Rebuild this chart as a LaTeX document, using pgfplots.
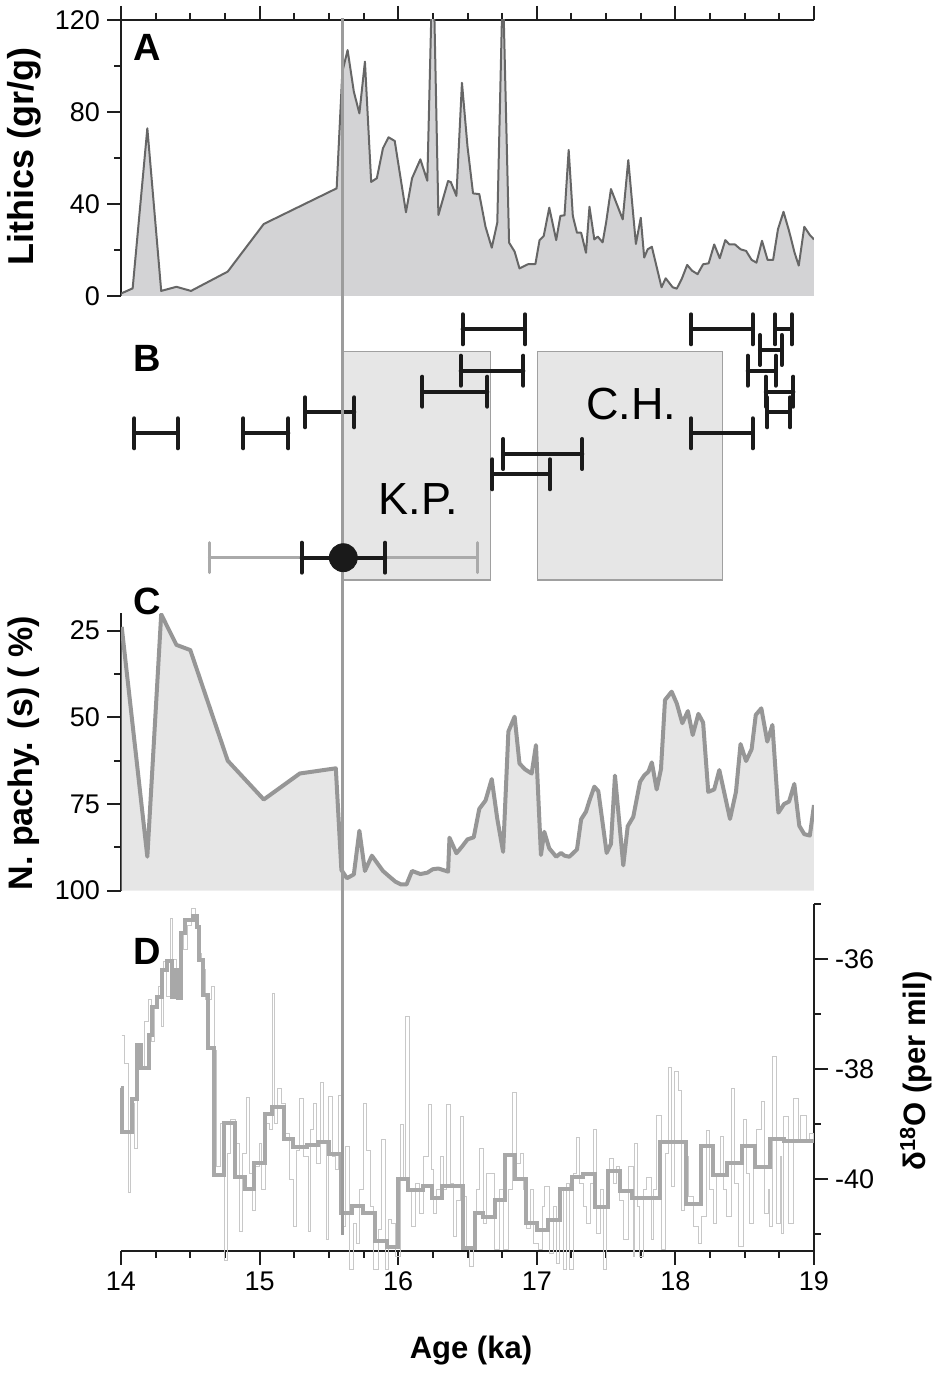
\documentclass[border=0pt]{standalone}
\usepackage{fontspec}
\setmainfont{Liberation Sans}
\usepackage{pgfplots}
\pgfplotsset{compat=1.18}
\usepackage{pgfplotstable}

\definecolor{axcol}{HTML}{1E1E1E}
\definecolor{afill}{HTML}{D3D3D5}
\definecolor{aline}{HTML}{666666}
\definecolor{cfill}{HTML}{E6E6E6}
\definecolor{cline}{HTML}{969696}
\definecolor{dthick}{HTML}{A8A8A8}
\definecolor{dthin}{HTML}{C8C8C8}
\definecolor{boxfill}{HTML}{E6E6E6}
\definecolor{boxline}{HTML}{A0A0A0}
\definecolor{barcol}{HTML}{1A1A1A}
\definecolor{graybar}{HTML}{AAAAAA}
\definecolor{vline}{HTML}{9C9C9C}

\pgfplotstableread{
x y
14.005 1.2
14.084 3.3
14.19 72.9
14.29 2.2
14.40 4.0
14.505 2.2
14.77 10.6
15.03 31.3
15.556 46.8
15.597 97.5
15.635 106.9
15.68 88.8
15.72 79.4
15.76 101.9
15.805 49.6
15.846 51.2
15.89 64.2
15.93 69.0
15.975 67.4
16.056 36.4
16.10 51.2
16.16 59.4
16.21 50.1
16.24 125
16.26 125
16.29 35.2
16.36 50.0
16.38 49.5
16.42 43.5
16.46 92.7
16.50 65.0
16.54 44.6
16.585 44.3
16.63 30.1
16.675 21.0
16.715 31.9
16.75 125
16.76 125
16.80 23.2
16.84 19.3
16.875 12.0
16.94 13.9
16.99 13.9
17.02 24.3
17.05 26.1
17.09 38.4
17.14 24.3
17.17 34.8
17.20 35.1
17.23 63.5
17.26 34.8
17.29 27.5
17.32 27.5
17.355 18.8
17.38 38.8
17.415 24.6
17.44 25.8
17.475 23.3
17.50 31.9
17.535 46.5
17.62 33.3
17.66 59.1
17.715 22.6
17.75 34.0
17.775 16.7
17.80 20.3
17.83 21.4
17.90 3.8
17.93 7.7
17.98 3.8
18.01 3.2
18.045 7.3
18.085 13.5
18.12 11.0
18.16 9.5
18.20 13.8
18.24 14.2
18.28 22.4
18.32 16.4
18.36 24.3
18.39 22.4
18.43 22.4
18.47 20.3
18.51 19.6
18.55 15.7
18.585 14.5
18.625 24.0
18.665 15.7
18.705 15.7
18.74 29.0
18.78 36.6
18.82 28.3
18.86 18.8
18.89 13.2
18.93 30.1
18.97 26.5
19.00 24.6
}\lithics

\pgfplotstableread{
x y
14.005 23.9
14.19 90.2
14.29 20.3
14.40 29.1
14.50 30.6
14.77 62.5
15.03 73.7
15.29 66.2
15.55 64.7
15.59 94.0
15.63 96.4
15.68 95.3
15.72 82.7
15.76 94.3
15.81 89.9
15.89 94.3
15.93 95.7
15.98 97.4
16.02 98.2
16.06 98.2
16.10 94.3
16.16 95.2
16.21 94.8
16.25 93.8
16.29 93.6
16.36 94.5
16.37 84.7
16.42 89.2
16.46 87.3
16.50 85.2
16.545 84.6
16.585 76.4
16.63 74.0
16.675 67.8
16.715 79.3
16.757 88.8
16.795 54.1
16.84 49.8
16.875 63.3
16.915 65.0
16.963 66.2
16.994 58.0
17.03 89.7
17.054 83.0
17.09 87.8
17.14 90.2
17.175 89.1
17.20 89.9
17.235 90.2
17.29 88.1
17.32 79.4
17.355 77.2
17.38 74.0
17.415 70.0
17.444 71.3
17.504 89.1
17.535 86.5
17.564 66.8
17.624 92.7
17.656 81.4
17.696 78.7
17.745 68.6
17.776 66.7
17.805 65.7
17.83 63.0
17.865 70.8
17.896 64.9
17.925 45.0
17.973 42.6
18.01 46.0
18.05 51.7
18.09 48.2
18.125 55.1
18.166 49.0
18.20 51.5
18.237 71.5
18.28 70.8
18.317 65.2
18.394 79.3
18.437 71.5
18.47 57.7
18.51 62.6
18.55 59.2
18.58 49.3
18.62 47.4
18.663 57.0
18.70 52.2
18.743 77.5
18.784 75.0
18.82 74.3
18.858 69.2
18.894 81.3
18.93 83.7
18.97 84.1
19.00 75.3
}\pachy

\pgfplotstableread{
x y
14.000 -38.35
14.005 -39.15
14.077 -38.55
14.113 -37.56
14.142 -37.98
14.204 -37.38
14.221 -36.87
14.257 -36.68
14.293 -36.19
14.329 -36.04
14.366 -36.68
14.390 -36.19
14.414 -36.70
14.430 -35.53
14.462 -35.29
14.522 -35.22
14.546 -35.41
14.565 -36.01
14.594 -36.65
14.630 -37.62
14.673 -39.92
14.743 -38.97
14.823 -39.96
14.895 -40.18
14.960 -39.70
15.039 -38.81
15.087 -38.68
15.178 -39.27
15.243 -39.42
15.340 -39.38
15.424 -39.32
15.503 -39.55
15.585 -40.61
15.664 -40.49
15.748 -40.61
15.833 -41.13
15.917 -41.24
16.001 -40.00
16.073 -40.19
16.180 -40.13
16.241 -40.35
16.314 -40.12
16.470 -41.26
16.554 -40.62
16.614 -40.68
16.698 -40.38
16.771 -39.56
16.843 -39.99
16.922 -40.79
16.999 -40.92
17.083 -40.75
17.167 -40.18
17.251 -39.96
17.336 -39.90
17.420 -40.51
17.511 -39.85
17.601 -40.21
17.685 -40.35
17.889 -39.32
18.077 -40.45
18.182 -39.39
18.274 -39.93
18.370 -39.71
18.478 -39.39
18.574 -39.78
18.682 -39.27
18.783 -39.30
19.000 -39.30
}\dthickdata

\pgfplotstableread{
x y
14.005 -37.38
14.022 -37.89
14.053 -40.25
14.070 -39.10
14.089 -38.62
14.100 -39.44
14.118 -37.53
14.149 -38.01
14.168 -37.13
14.197 -36.74
14.221 -37.50
14.240 -36.86
14.269 -36.50
14.293 -37.22
14.310 -36.04
14.329 -36.68
14.354 -35.25
14.373 -36.01
14.397 -36.62
14.426 -35.53
14.450 -35.83
14.479 -35.38
14.510 -35.07
14.534 -35.35
14.558 -35.89
14.582 -36.19
14.613 -36.74
14.654 -36.50
14.671 -37.65
14.690 -39.77
14.719 -38.98
14.750 -41.47
14.767 -39.53
14.791 -38.92
14.823 -39.35
14.854 -40.95
14.878 -39.53
14.907 -38.51
14.930 -39.89
14.950 -40.56
14.974 -39.77
14.998 -39.35
15.015 -40.19
15.046 -38.98
15.075 -39.10
15.094 -36.63
15.111 -38.98
15.128 -38.35
15.159 -38.62
15.190 -39.16
15.219 -40.01
15.243 -40.86
15.267 -39.47
15.291 -38.53
15.320 -39.59
15.352 -40.95
15.368 -39.10
15.388 -38.62
15.412 -39.71
15.436 -38.24
15.460 -39.35
15.484 -41.10
15.496 -38.50
15.525 -39.59
15.549 -39.83
15.568 -38.48
15.597 -40.86
15.623 -39.41
15.647 -41.65
15.681 -40.80
15.700 -41.16
15.724 -40.19
15.748 -38.62
15.772 -39.47
15.801 -40.49
15.825 -41.65
15.857 -40.92
15.881 -39.27
15.905 -41.65
15.929 -40.74
15.953 -40.80
15.977 -41.41
16.013 -39.01
16.037 -40.01
16.056 -37.04
16.080 -40.19
16.097 -40.86
16.128 -40.07
16.157 -40.62
16.186 -39.59
16.217 -38.65
16.237 -39.83
16.253 -40.62
16.278 -40.19
16.302 -39.59
16.326 -40.19
16.350 -38.65
16.374 -40.07
16.398 -41.04
16.422 -40.38
16.446 -38.86
16.470 -40.32
16.494 -41.22
16.518 -41.59
16.542 -40.80
16.566 -40.19
16.590 -39.45
16.614 -40.80
16.638 -39.89
16.674 -39.90
16.698 -41.28
16.734 -40.19
16.758 -41.28
16.794 -40.19
16.826 -38.42
16.850 -39.71
16.879 -39.53
16.903 -40.19
16.927 -40.89
16.956 -40.19
16.975 -41.16
17.011 -41.28
17.042 -40.50
17.059 -40.13
17.095 -41.35
17.119 -40.50
17.143 -41.53
17.167 -40.19
17.191 -41.65
17.215 -40.07
17.239 -41.65
17.263 -39.89
17.287 -39.24
17.311 -40.07
17.336 -40.49
17.360 -40.80
17.384 -40.07
17.408 -39.09
17.432 -40.98
17.456 -40.19
17.480 -41.65
17.504 -40.07
17.528 -39.62
17.552 -40.07
17.576 -39.77
17.600 -40.38
17.624 -41.10
17.660 -39.77
17.696 -41.41
17.708 -39.35
17.725 -40.49
17.744 -41.41
17.768 -40.19
17.792 -39.96
17.829 -41.10
17.845 -40.19
17.865 -38.84
17.901 -41.28
17.925 -39.53
17.949 -37.96
17.973 -40.13
17.997 -38.04
18.021 -38.38
18.045 -40.56
18.069 -39.59
18.093 -40.32
18.129 -40.86
18.165 -41.16
18.189 -40.68
18.226 -39.12
18.249 -40.19
18.274 -40.80
18.298 -39.89
18.322 -39.22
18.346 -40.19
18.370 -40.68
18.406 -38.35
18.430 -40.07
18.454 -41.22
18.490 -38.92
18.514 -39.89
18.538 -40.80
18.562 -39.59
18.586 -39.10
18.622 -38.59
18.646 -40.62
18.670 -40.19
18.682 -40.86
18.701 -37.76
18.730 -40.80
18.755 -39.59
18.766 -40.98
18.779 -38.86
18.815 -40.80
18.851 -38.53
18.887 -39.34
18.906 -38.84
18.947 -39.34
18.971 -39.16
19.000 -39.30
}\dthindata

% panel B: ages with ranges (x in ka, y = vertical slot)
\pgfplotstableread{
x y
14.096 -433.3
14.409 -433.3
nan nan
14.882 -433.3
15.207 -433.3
nan nan
15.328 -412.3
15.683 -412.3
nan nan
16.174 -391.7
16.643 -391.7
nan nan
16.465 -329.3
16.915 -329.3
nan nan
16.451 -370.7
16.903 -370.7
nan nan
16.758 -454.0
17.328 -454.0
nan nan
16.679 -474.3
17.095 -474.3
nan nan
18.113 -329.3
18.558 -329.3
nan nan
18.719 -329.3
18.839 -329.3
nan nan
18.610 -350.0
18.767 -350.0
nan nan
18.522 -370.7
18.724 -370.7
nan nan
18.652 -391.7
18.851 -391.7
nan nan
18.663 -412.3
18.827 -412.3
nan nan
18.113 -433.3
18.558 -433.3
}\agebars

\pgfplotsset{
  every non boxed x axis/.append style={x axis line style=-},
  every non boxed y axis/.append style={y axis line style=-},
  base/.style={
    scale only axis, width=346.5bp, xmin=14, xmax=19, anchor=south west,
    axis line style={line width=1bp, draw=axcol},
    tick style={line width=1bp, draw=axcol},
    major tick length=7bp, minor tick length=3.5bp, tick align=outside,
    tick label style={font=\fontsize{13.5bp}{13.5bp}\selectfont, text=black},
    /pgf/number format/assume math mode=true,
  },
}

\begin{document}
\begin{tikzpicture}
\path[use as bounding box] (0,0) rectangle (466bp,688.5bp);

% ---------- Panel A ----------
\begin{axis}[base, at={(60.5bp,540.5bp)}, height=138bp, ymin=0, ymax=120,
  axis x line*=top, axis y line*=left,
  xtick={14,15,16,17,18,19}, minor x tick num=3, xticklabels={},
  ytick={0,40,80,120}, minor ytick={20,60,100}]
\addplot[fill=afill, draw=none] table[x=x,y=y]{\lithics} \closedcycle;
\addplot[aline, line width=1bp, line join=round] table[x=x,y=y]{\lithics};
\end{axis}

% ---------- Panel C ----------
\begin{axis}[base, at={(60.5bp,243.15bp)}, height=138.7bp, ymin=20, ymax=100,
  y dir=reverse, axis x line=none, axis y line*=left,
  ytick={25,50,75,100}, minor ytick={37.5,62.5,87.5}]
\addplot[fill=cfill, draw=none] table[x=x,y=y]{\pachy} -- (axis cs:19,100) -- (axis cs:14.005,100) -- cycle;
\addplot[cline, line width=2bp, line join=round] table[x=x,y=y]{\pachy};
\end{axis}

% ---------- Panel D ----------
\begin{axis}[base, at={(60.5bp,63.15bp)}, height=173.2bp, ymin=-41.3, ymax=-35.0,
  axis x line*=bottom, axis y line*=right, clip=false,
  xtick={14,15,16,17,18,19}, minor x tick num=3,
  ytick={-40,-38,-36}, minor ytick={-41,-39,-37,-35}]
\addplot[dthin, line width=0.5bp, const plot] table[x=x,y=y]{\dthindata};
\addplot[dthick, line width=2bp, const plot] table[x=x,y=y]{\dthickdata};
\end{axis}

% ---------- Panel B ----------
\begin{axis}[base, at={(60.5bp,388.5bp)}, height=150bp, ymin=-600, ymax=-300,
  hide axis, clip=false]
\addplot[fill=boxfill, draw=boxline, line width=0.7bp] coordinates
  {(15.604,-351.7) (16.667,-351.7) (16.667,-580) (15.604,-580) (15.604,-351.7)};
\addplot[fill=boxfill, draw=boxline, line width=0.7bp] coordinates
  {(17.004,-351.7) (18.338,-351.7) (18.338,-580) (17.004,-580) (17.004,-351.7)};
\node[font=\fontsize{22.5bp}{22.5bp}\selectfont] at (axis cs:16.146,-499) {K.P.};
\node[font=\fontsize{22.5bp}{22.5bp}\selectfont] at (axis cs:17.68,-404) {C.H.};
\addplot[barcol, line width=2bp, line cap=round, unbounded coords=jump,
  mark=|, mark size=7.5bp, mark options={line width=2bp, line cap=round}]
  table[x=x,y=y]{\agebars};
\addplot[graybar, line width=1.5bp, line cap=round,
  mark=|, mark size=7.5bp, mark options={line width=1.5bp, line cap=round}]
  coordinates {(14.637,-557.7) (16.571,-557.7)};
\addplot[barcol, line width=2bp, line cap=round,
  mark=|, mark size=7.5bp, mark options={line width=2bp, line cap=round}]
  coordinates {(15.304,-557.7) (15.905,-557.7)};
\addplot[only marks, mark=*, mark size=7bp, barcol] coordinates {(15.604,-557.7)};
\addplot[vline, line width=1.5bp] coordinates {(15.60,-18) (15.60,-1235)};
\end{axis}

% ---------- labels ----------
\node[font=\bfseries\fontsize{19bp}{19bp}\selectfont] at (73.5bp,665bp) {A};
\node[font=\bfseries\fontsize{19bp}{19bp}\selectfont] at (73.5bp,509.5bp) {B};
\node[font=\bfseries\fontsize{19bp}{19bp}\selectfont] at (73.5bp,388bp) {C};
\node[font=\bfseries\fontsize{19bp}{19bp}\selectfont] at (73.5bp,213bp) {D};
\node[rotate=90, font=\bfseries\fontsize{18bp}{18bp}\selectfont] at (12bp,610bp) {Lithics (gr/g)};
\node[rotate=90, font=\bfseries\fontsize{17bp}{17bp}\selectfont] at (12bp,312bp) {N. pachy. (s) ( \%)};
\node[rotate=90, font=\bfseries\fontsize{15.5bp}{15.5bp}\selectfont] at (458bp,153bp) {δ\textsuperscript{18}O (per mil)};
\node[font=\bfseries\fontsize{15.5bp}{15.5bp}\selectfont] at (235.5bp,13bp) {Age (ka)};
\end{tikzpicture}
\end{document}
